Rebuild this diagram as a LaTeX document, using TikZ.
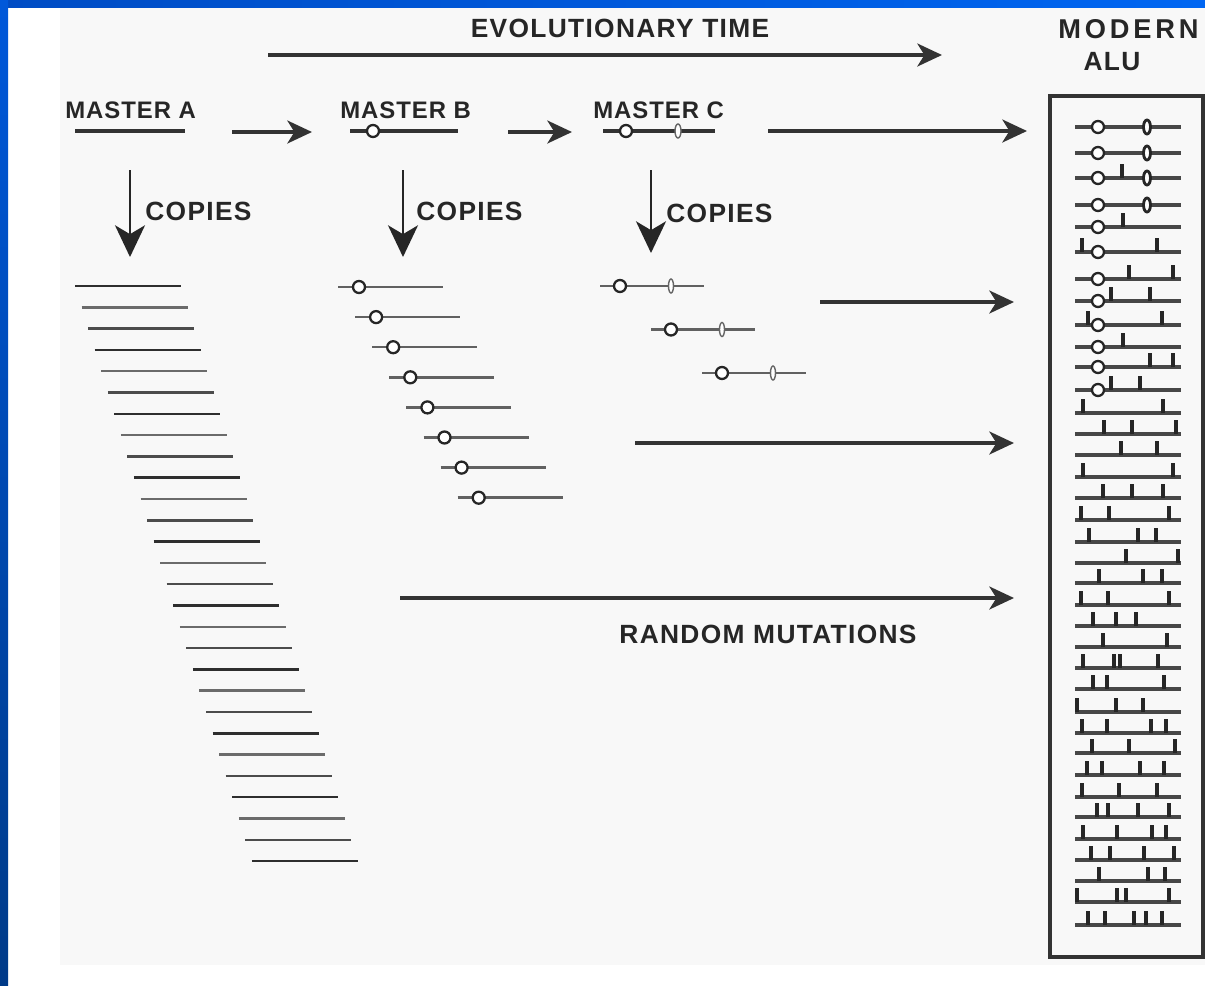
\documentclass[tikz,border=0pt]{standalone}
\usepackage{fontspec}
\setmainfont{Liberation Sans}
\usetikzlibrary{arrows.meta,positioning}

\definecolor{barL}{HTML}{004CC4}
\definecolor{barR}{HTML}{0066F2}
\definecolor{sideT}{HTML}{0058DA}
\definecolor{sideB}{HTML}{003A88}
\definecolor{scan}{HTML}{F8F8F8}

\begin{document}
\begin{tikzpicture}[
        x=0.02cm, y=-0.02cm,
        >=Stealth,
        lbl/.style={
            font=\bfseries\fontsize{15}{17}\selectfont\addfontfeature{LetterSpace=5},
            text=black!85,
            inner sep=0pt
        },
        mlbl/.style={
            lbl,
            font=\bfseries\fontsize{13.6}{16}\selectfont\addfontfeature{LetterSpace=4}
        },
        tarrow/.style={-{Stealth[length=14pt, width=13pt, inset=4pt]}, line width=2.2pt, draw=black!80},
        carrow/.style={-{Stealth[length=18pt, width=17pt, inset=5pt]}, line width=1.7pt, draw=black!85},
        master/.style={line width=2.3pt, draw=black!80},
        seqB/.style={line width=1.4pt, draw=black!62},
        aluseq/.style={line width=1.9pt, draw=black!72},
        site/.style={draw=black!85, fill=white, line width=1.3pt},
        bump/.style={draw=black!60, fill=white, line width=0.8pt},
        mut/.style={line width=1.8pt, draw=black!85}
    ]
        % slide frame and scanned page
        \fill[white] (0,0) rectangle (1205,985);
        \fill[scan] (60,7) rectangle (1205,965);
        \shade[left color=barL, right color=barR] (0,0) rectangle (1205,7);
        \shade[top color=sideT, bottom color=sideB] (0,0) rectangle (8,985);
        \useasboundingbox (0,0) rectangle (1205,985);

        % headings
        \node[lbl] (evol) at (620,28) {EVOLUTIONARY TIME};
        \node[lbl, anchor=west, font=\bfseries\fontsize{15.5}{17}\selectfont\addfontfeature{LetterSpace=14}] (modern) at (1058,29) {MODERN};
        \node[lbl] (alu) at (1112,62) {ALU};
        \coordinate (evS) at (268,55);
        \coordinate (evE) at (942,55);
        \draw[tarrow] (evS) -- (evE);

        % master genes
        \node[mlbl, anchor=west] (mastA) at (65,110) {MASTER A};
        \node[mlbl, anchor=west] (mastB) at (340,110) {MASTER B};
        \node[mlbl, anchor=west] (mastC) at (593,110) {MASTER C};
        \draw[master] (75,131) -- (185,131);
        \draw[master] (350,131) -- (458,131);
        \draw[site] (373,131) circle[radius=6];
        \draw[master] (603,131) -- (715,131);
        \draw[site] (626,131) circle[radius=6];
        \draw[bump] (678,131) ellipse[x radius=3, y radius=7];

        \coordinate (abS) at (232,132);
        \coordinate (abE) at (312,132);
        \coordinate (bcS) at (508,132);
        \coordinate (bcE) at (572,132);
        \coordinate (cxS) at (768,131);
        \coordinate (cxE) at (1027,131);
        \draw[tarrow] (abS) -- (abE);
        \draw[tarrow] (bcS) -- (bcE);
        \draw[tarrow] (cxS) -- (cxE);

        % copies
        \coordinate (cpAs) at (130,170);
        \coordinate (cpAe) at (130,257);
        \coordinate (cpBs) at (403,170);
        \coordinate (cpBe) at (403,257);
        \coordinate (cpCs) at (651,170);
        \coordinate (cpCe) at (651,253);
        \draw[carrow] (cpAs) -- (cpAe);
        \draw[carrow] (cpBs) -- (cpBe);
        \draw[carrow] (cpCs) -- (cpCe);
        \node[lbl, anchor=west] (copA) at (145,211) {COPIES};
        \node[lbl, anchor=west] (copB) at (416,211) {COPIES};
        \node[lbl, anchor=west] (copC) at (666,213) {COPIES};

        % copies of A
        \foreach \i in {0,...,27} {
            \pgfmathtruncatemacro{\sh}{82-12*mod(\i*5,3)}
            \draw[line width=1.4pt, draw=black!\sh] (75+6.55*\i,286+21.3*\i) -- ++(106,0);
        }

        % copies of B
        \foreach \i in {0,...,7} {
            \draw[seqB] (338+17.1*\i,287+30.1*\i) -- ++(105,0);
            \draw[site] (359+17.1*\i,287+30.1*\i) circle[radius=6];
        }

        % copies of C
        \foreach \i in {0,...,2} {
            \draw[seqB] (600+51*\i,286+43.5*\i) -- ++(104,0);
            \draw[site] (620+51*\i,286+43.5*\i) circle[radius=6];
            \draw[bump] (671+51*\i,286+43.5*\i) ellipse[x radius=2.5, y radius=7];
        }

        % arrows into modern family
        \coordinate (r1S) at (820,302);
        \coordinate (r1E) at (1014,302);
        \coordinate (r2S) at (635,443);
        \coordinate (r2E) at (1014,443);
        \coordinate (r3S) at (400,598);
        \coordinate (r3E) at (1014,598);
        \draw[tarrow] (r1S) -- (r1E);
        \draw[tarrow] (r2S) -- (r2E);
        \draw[tarrow] (r3S) -- (r3E);
        \node[lbl] (rand) at (768,634) {RANDOM MUTATIONS};

        % modern alu family
        \draw[line width=1.8pt, draw=black!80] (1050,96) rectangle (1203,957);
        \foreach \y in {127,153,178,205,227,252,279,301,325,347,367,390,413,434,455,477,498,520,542,563,583,605,626,647,668,689,712,733,753,775,797,817,839,860,881,902,925}
            \draw[aluseq] (1075,\y) -- (1181,\y);
        \foreach \y in {127,153,178,205,227,252,279,301,325,347,367,390}
            \draw[site] (1098,\y) circle[radius=6];
        \foreach \y in {127,153,178,205}
            \draw[site, line width=1.6pt] (1147,\y) ellipse[x radius=3.5, y radius=7];
        \foreach \y/\tl in {178/{1122}, 227/{1123}, 252/{1082,1157}, 279/{1129,1173},
                301/{1111,1150}, 325/{1088,1162}, 347/{1123}, 367/{1150,1173},
                390/{1111,1140}, 413/{1083,1163}, 434/{1104,1132,1176}, 455/{1121,1157},
                477/{1083,1173}, 498/{1103,1132,1163}, 520/{1081,1109,1169},
                542/{1089,1138,1156}, 563/{1126,1178}, 583/{1099,1143,1162},
                605/{1081,1108,1169}, 626/{1093,1116,1136}, 647/{1103,1167},
                668/{1083,1114,1120,1158}, 689/{1093,1107,1164}, 712/{1077,1116,1143},
                733/{1082,1107,1151,1166}, 753/{1092,1129,1175}, 775/{1087,1102,1140,1164},
                797/{1082,1119,1157}, 817/{1097,1108,1138,1169}, 839/{1083,1117,1152,1166},
                860/{1091,1110,1144,1174}, 881/{1099,1148,1165}, 902/{1077,1117,1126,1169},
                925/{1088,1105,1134,1146,1162}}
            \foreach \t in \tl
                \draw[mut] (\t,\y) -- ++(0,-14);
    \end{tikzpicture}
\end{document}
